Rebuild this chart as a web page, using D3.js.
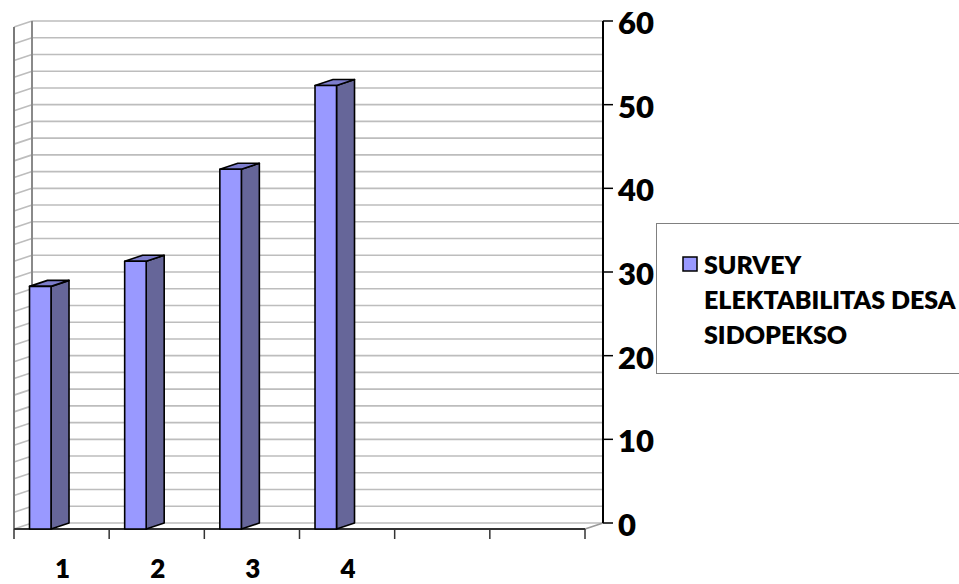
<!DOCTYPE html>
<html>
<head>
<meta charset="utf-8">
<script src="https://cdn.jsdelivr.net/npm/d3@7/dist/d3.min.js"></script>
<style>
  html, body { margin: 0; padding: 0; background: #fff; }
  svg { display: block; }
  text { font-family: Lato, "Open Sans", sans-serif; font-weight: 800; fill: #000; }
</style>
</head>
<body>
<svg id="chart" width="959" height="584"></svg>
<script>
// Survey results per category (six slots on the axis, four filled)
const categories = ["1", "2", "3", "4", "", ""];
const values = [29, 32, 43, 53];
const valueTicks = [0, 10, 20, 30, 40, 50, 60];
const gridStep = 2;
const seriesLines = ["SURVEY", "ELEKTABILITAS DESA", "SIDOPEKSO"];

const svg = d3.select("#chart");

// 3D frame: back wall plane and oblique depth offset
const DX = 18, DY = 6;
const frontLeft = 14, frontRight = 585;
const y = d3.scaleLinear().domain([0, 60]).range([523, 21]);     // back wall
const yF = v => y(v) + DY;                                         // front plane
const x = d3.scaleBand().domain(d3.range(categories.length)).range([frontLeft, frontRight]);
const backLeft = frontLeft + DX, backRight = frontRight + DX;

const colors = { front: "#9999ff", side: "#666699", top: "#7d7dcc" };

// gridlines on the back wall and the left side wall
const gridVals = d3.range(0, 60 + 0.001, gridStep);
const grid = svg.append("g").attr("stroke", "#bdbdbd").attr("stroke-width", 1.6).attr("fill", "none");
grid.selectAll("line.back").data(gridVals).join("line")
  .attr("class", "back")
  .attr("x1", backLeft).attr("x2", backRight)
  .attr("y1", d => y(d)).attr("y2", d => y(d));
grid.selectAll("line.side").data(gridVals).join("line")
  .attr("class", "side")
  .attr("x1", frontLeft).attr("x2", backLeft)
  .attr("y1", d => yF(d)).attr("y2", d => y(d));

// wall edges
svg.append("line").attr("x1", backLeft).attr("x2", backLeft)
  .attr("y1", y(60)).attr("y2", y(0)).attr("stroke", "#8a8a8a").attr("stroke-width", 2);
svg.append("line").attr("x1", frontLeft).attr("x2", frontLeft)
  .attr("y1", yF(60)).attr("y2", yF(0)).attr("stroke", "#7a7a7a").attr("stroke-width", 2);

// floor edges
svg.append("line").attr("x1", frontRight).attr("x2", backRight)
  .attr("y1", yF(0)).attr("y2", y(0)).attr("stroke", "#9a9a9a").attr("stroke-width", 1.6);
svg.append("line").attr("x1", frontLeft).attr("x2", frontRight)
  .attr("y1", yF(0)).attr("y2", yF(0)).attr("stroke", "#333").attr("stroke-width", 2);

// category ticks and labels along the front floor edge
const tickXs = d3.range(categories.length + 1).map(i => i < categories.length ? x(i) : x(categories.length - 1) + x.bandwidth());
svg.append("g").selectAll("line").data(tickXs).join("line")
  .attr("x1", d => d).attr("x2", d => d)
  .attr("y1", yF(0)).attr("y2", yF(0) + 10)
  .attr("stroke", "#333").attr("stroke-width", 1.5);
svg.append("g").selectAll("text").data(categories).join("text")
  .attr("x", (d, i) => x(i) + x.bandwidth() / 2 + 1)
  .attr("y", 578)
  .attr("text-anchor", "middle")
  .attr("font-size", 26)
  .text(d => d);

// value axis on the right of the back wall
svg.append("line").attr("x1", backRight).attr("x2", backRight)
  .attr("y1", y(60)).attr("y2", y(0)).attr("stroke", "#000").attr("stroke-width", 2);
svg.append("g").selectAll("line").data(valueTicks).join("line")
  .attr("x1", backRight).attr("x2", backRight + 10)
  .attr("y1", d => y(d)).attr("y2", d => y(d))
  .attr("stroke", "#000").attr("stroke-width", 1.5);
svg.append("g").selectAll("text").data(valueTicks).join("text")
  .attr("x", backRight + 15)
  .attr("y", d => y(d) + 1)
  .attr("dominant-baseline", "central")
  .attr("font-size", 31)
  .text(d => d);

// 3D columns
const barOff = x.bandwidth() * 0.163, barW = x.bandwidth() * 0.226;
const bars = svg.append("g").attr("stroke", "#000").attr("stroke-width", 1.6).attr("stroke-linejoin", "round");
values.forEach((v, i) => {
  const x0 = x(i) + barOff, x1 = x0 + barW, yt = yF(v), yb = yF(0);
  const g = bars.append("g");
  g.append("polygon").attr("fill", colors.side)
    .attr("points", [[x1, yt], [x1 + DX, yt - DY], [x1 + DX, yb - DY], [x1, yb]].join(" "));
  g.append("polygon").attr("fill", colors.top)
    .attr("points", [[x0, yt], [x0 + DX, yt - DY], [x1 + DX, yt - DY], [x1, yt]].join(" "));
  g.append("rect").attr("fill", colors.front)
    .attr("x", x0).attr("y", yt).attr("width", barW).attr("height", yb - yt);
});

// legend
const legend = svg.append("g");
legend.append("rect").attr("x", 656.5).attr("y", 223.5).attr("width", 330).attr("height", 150)
  .attr("fill", "none").attr("stroke", "#808080").attr("stroke-width", 1);
legend.append("rect").attr("x", 683).attr("y", 257).attr("width", 14).attr("height", 14)
  .attr("fill", colors.front).attr("stroke", "#000").attr("stroke-width", 1.5);
legend.selectAll("text").data(seriesLines).join("text")
  .attr("x", 704)
  .attr("y", (d, i) => 264 + i * 35)
  .attr("dominant-baseline", "central")
  .attr("font-size", 25)
  .text(d => d);
</script>
</body>
</html>
